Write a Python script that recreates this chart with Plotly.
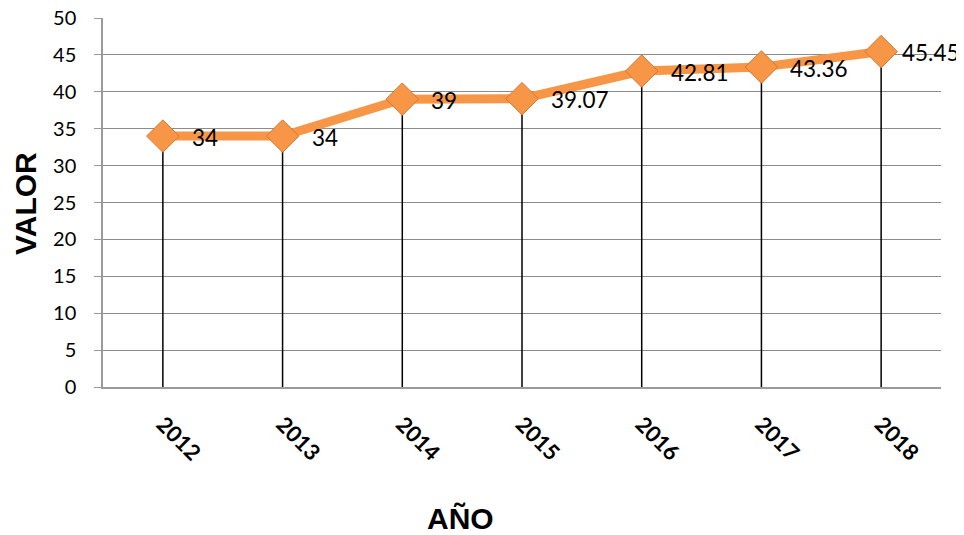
import plotly.graph_objects as go

years = ["2012", "2013", "2014", "2015", "2016", "2017", "2018"]
valores = [34, 34, 39, 39.07, 42.81, 43.36, 45.45]
labels = ["34", "34", "39", "39.07", "42.81", "43.36", "45.45"]
y_ticks = [0, 5, 10, 15, 20, 25, 30, 35, 40, 45, 50]

ORANGE = "#F79646"
label_shift = [27, 27, 27, 27, 27, 27, 19]

# drop lines from each point to zero
drop_x, drop_y = [], []
for yr, v in zip(years, valores):
    drop_x += [yr, yr, None]
    drop_y += [0, v, None]

fig = go.Figure()
fig.add_trace(go.Scatter(
    x=drop_x, y=drop_y, mode="lines",
    line=dict(color="black", width=1.5),
    hoverinfo="skip", showlegend=False,
))
fig.add_trace(go.Scatter(
    x=years, y=valores, mode="lines+markers",
    line=dict(color=ORANGE, width=9),
    marker=dict(symbol="diamond", size=25, color=ORANGE,
                line=dict(color="#D9772F", width=1)),
    showlegend=False, cliponaxis=False,
))

annotations = []
for i, (v, t, s) in enumerate(zip(valores, labels, label_shift)):
    annotations.append(dict(
        x=i, y=v, xref="x", yref="y", text=t, showarrow=False,
        xanchor="left", yanchor="middle", xshift=s, yshift=-1,
        font=dict(family="Lato, Open Sans, sans-serif", size=22.5, color="black"),
    ))

# Geometry accounts for the 8px page margin
L, T, PW, PH = 95, 10, 838, 369
W, H = 956, 527

def px(x):
    return (x - 8 - L) / PW

def py(y):
    return 1 - (y - 8 - T) / PH

annotations.append(dict(
    text="<b>AÑO</b>", xref="paper", yref="paper",
    x=px(460), y=py(518), xanchor="center", yanchor="middle", showarrow=False,
    font=dict(family="Liberation Sans, Arial, sans-serif", size=30, color="black"),
))
annotations.append(dict(
    text="<b>VALOR</b>", xref="paper", yref="paper", textangle=-90,
    x=px(25), y=py(204), xanchor="center", yanchor="middle", showarrow=False,
    font=dict(family="Liberation Sans, Arial, sans-serif", size=30, color="black"),
))

fig.update_layout(
    width=W, height=H,
    margin=dict(l=L, r=W - L - PW, t=T, b=H - T - PH, autoexpand=False),
    paper_bgcolor="white", plot_bgcolor="white",
    font=dict(family="Lato, Open Sans, sans-serif", color="black"),
    xaxis=dict(
        type="category",
        tickangle=45,
        tickfont=dict(family="Lato, sans-serif", size=22, color="black", weight="bold"),
        showgrid=False,
        showline=True, linecolor="#9a9a9a", linewidth=1.5,
        ticks="", ticklabelstandoff=14,
        range=[-0.5, 6.5],
        automargin=False, ticklabeloverflow="allow",
    ),
    yaxis=dict(
        range=[0, 50],
        tickvals=y_ticks,
        tickfont=dict(family="Lato, sans-serif", size=20, color="black"),
        showgrid=True, gridcolor="#8c8c8c", gridwidth=1,
        showline=True, linecolor="#9a9a9a", linewidth=1.5,
        ticks="outside", ticklen=7, tickcolor="#9a9a9a",
        ticklabelstandoff=14, ticklabeloverflow="allow",
        zeroline=False, automargin=False,
    ),
    annotations=annotations,
)

fig.write_html("out.html")
